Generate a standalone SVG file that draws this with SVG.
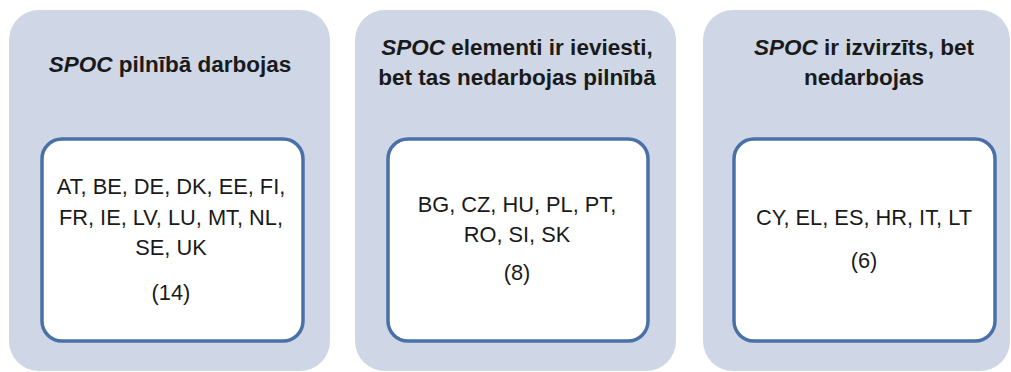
<svg xmlns="http://www.w3.org/2000/svg" width="1011" height="372" viewBox="0 0 1011 372">
<style>
.panel{fill:#cfd7e6;stroke:none}
.box{fill:#ffffff;stroke:#4a70a8;stroke-width:3.5}
.title{font-family:"Liberation Sans",Arial,sans-serif;font-size:22.5px;font-weight:bold;fill:#1a1a1a;text-anchor:middle}
.body{font-family:"Liberation Sans",Arial,sans-serif;font-size:21.8px;fill:#1a1a1a;text-anchor:middle}
.it{font-style:italic}
</style>
<rect width="1011" height="372" fill="#ffffff"/>
<g id="panel-full">
<rect class="panel" x="9" y="10" width="321" height="361" rx="30"/>
<text class="title" x="170" y="72"><tspan class="it">SPOC</tspan> pilnībā darbojas</text>
<g id="box-full">
<rect class="box" x="42" y="139" width="261" height="202" rx="20"/>
<text class="body" x="171" y="194">AT, BE, DE, DK, EE, FI,</text>
<text class="body" x="171" y="225">FR, IE, LV, LU, MT, NL,</text>
<text class="body" x="171" y="255">SE, UK</text>
<text class="body" x="171" y="300">(14)</text>
</g>
</g>
<g id="panel-partial">
<rect class="panel" x="355" y="10" width="321" height="361" rx="30"/>
<text class="title" x="517" y="55"><tspan class="it">SPOC</tspan> elementi ir ieviesti,</text>
<text class="title" x="517" y="85">bet tas nedarbojas pilnībā</text>
<g id="box-partial">
<rect class="box" x="388" y="139" width="260" height="202" rx="20"/>
<text class="body" x="517" y="212">BG, CZ, HU, PL, PT,</text>
<text class="body" x="517" y="242">RO, SI, SK</text>
<text class="body" x="517" y="280">(8)</text>
</g>
</g>
<g id="panel-none">
<rect class="panel" x="703" y="10" width="307" height="361" rx="30"/>
<text class="title" x="864" y="55"><tspan class="it">SPOC</tspan> ir izvirzīts, bet</text>
<text class="title" x="864" y="85">nedarbojas</text>
<g id="box-none">
<rect class="box" x="734" y="139" width="261" height="202" rx="20"/>
<text class="body" x="864" y="225">CY, EL, ES, HR, IT, LT</text>
<text class="body" x="864" y="268">(6)</text>
</g>
</g>
</svg>
